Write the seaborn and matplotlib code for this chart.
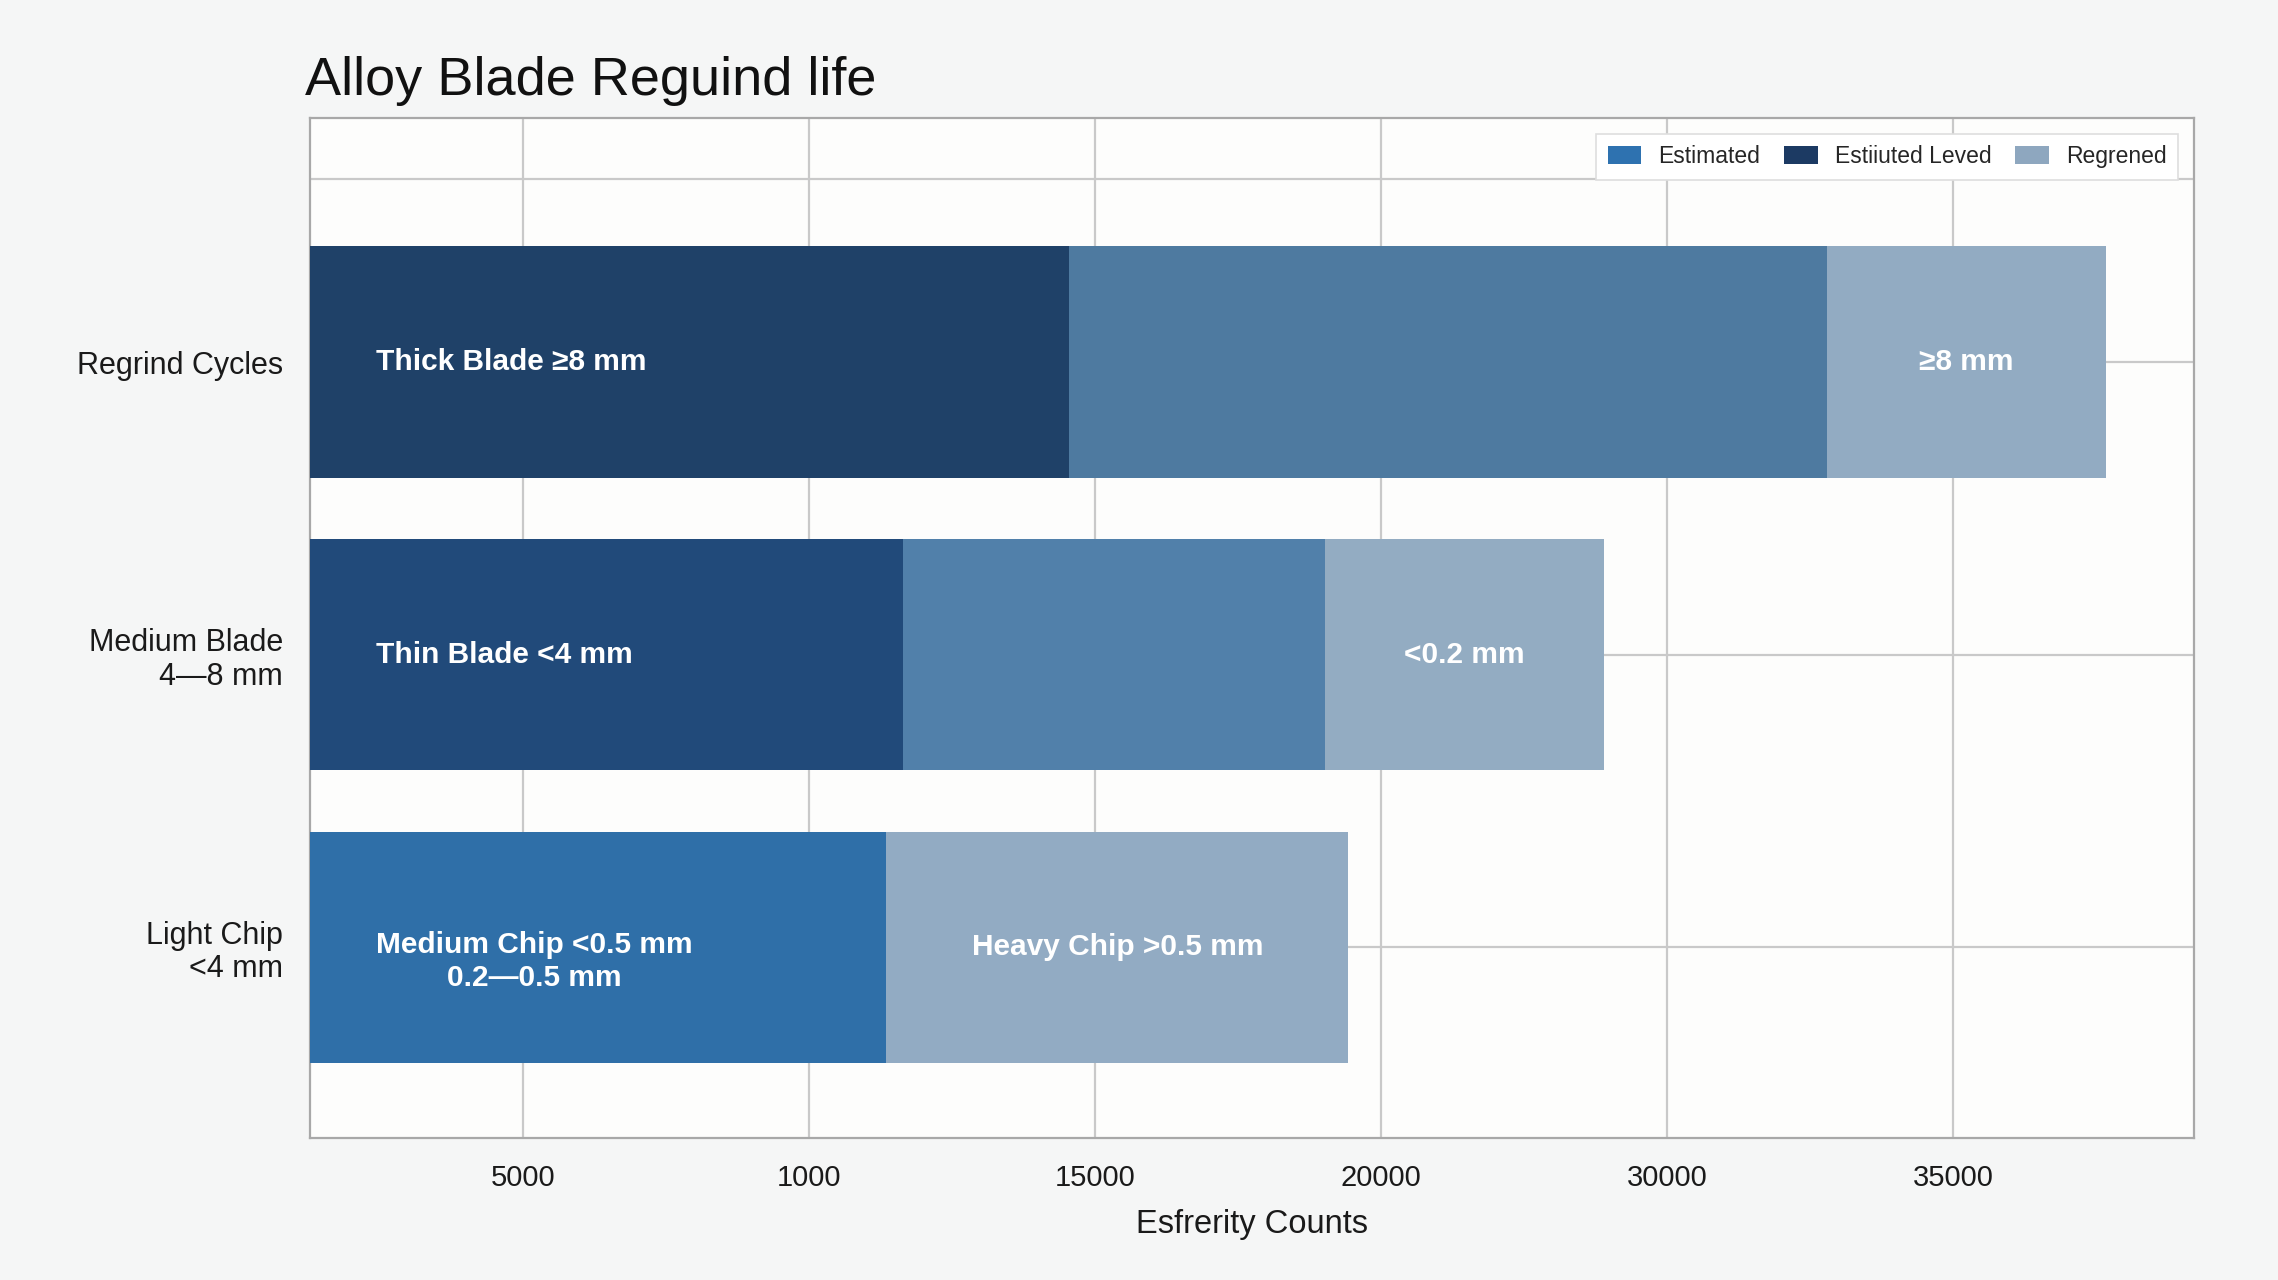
import numpy as np
import pandas as pd
import matplotlib
matplotlib.use("Agg")
import matplotlib.pyplot as plt
import seaborn as sns
from matplotlib.patches import Patch

# ---------------- data ----------------
categories = ["Regrind Cycles", "Medium Blade\n4\u20148 mm", "Light Chip\n<4 mm"]
seg1 = [14550, 11650, 11350]
seg2 = [13240, 7370, 8080]
seg3 = [4880, 4880, 0]
seg1_colors = ["#1f4168", "#214a7a", "#2f6fa8"]
seg2_colors = ["#4e7aa0", "#5180aa", "#92abc3"]
seg3_colors = ["#92abc2", "#93acc2", "#92abc3"]
seg1_labels = ["Thick Blade \u22658 mm", "Thin Blade <4 mm", "Medium Chip <0.5 mm\n0.2\u20140.5 mm"]
seg2_labels = ["", "", "Heavy Chip >0.5 mm"]
seg3_labels = ["\u22658 mm", "<0.2 mm", ""]
legend_labels = ["Estimated", "Estiiuted Leved", "Regrened"]
legend_colors = ["#2e72b0", "#1c3a63", "#8ea7bf"]
x_ticks = [5000, 10000, 15000, 20000, 25000, 30000]
x_ticklabels = ["5000", "1000", "15000", "20000", "30000", "35000"]
title = "Alloy Blade Reguind life"
xlabel = "Esfrerity Counts"

# ---------------- style ----------------
sns.set_theme(style="whitegrid")
base = ["Liberation Sans", "DejaVu Sans"]
plt.rcParams["font.family"] = base

df = pd.DataFrame({
    "category": categories,
    "s1": seg1, "s2": seg2, "s3": seg3,
})
df["c1"] = df["s1"]
df["c2"] = df["s1"] + df["s2"]
df["c3"] = df["s1"] + df["s2"] + df["s3"]

fig = plt.figure(figsize=(22.78, 12.80), dpi=100, facecolor="#f5f6f6")
ax = fig.add_axes([0.1359, 0.1113, 0.8272, 0.7967])
ax.set_facecolor("#fdfdfc")

for col, pal in [("c3", seg3_colors), ("c2", seg2_colors), ("c1", seg1_colors)]:
    sns.barplot(data=df, x=col, y="category", hue="category", palette=pal,
                orient="h", width=0.79, saturation=1, legend=False, ax=ax,
                linewidth=0, edgecolor="none", zorder=3)

ax.set_xlim(1267, 34213)
ax.set_ylim(2.651, -0.835)
ax.set_xticks(x_ticks)
ax.set_xticklabels(x_ticklabels)
ax.axhline(-0.627, color="#c9c9c9", lw=1.6, zorder=0.5)
ax.grid(True, color="#c9c9c9", lw=1.6, zorder=0)
ax.set_axisbelow(True)

for s in ax.spines.values():
    s.set_visible(True)
    s.set_color("#a8a8a8")
    s.set_linewidth(1.6)

ax.tick_params(axis="x", length=0, pad=19, labelsize=21, labelcolor="#1a1a1a")
ax.tick_params(axis="y", length=0, pad=19, labelsize=22, labelcolor="#1a1a1a")
for t in ax.get_yticklabels():
    t.set_horizontalalignment("right")
    t.set_multialignment("right")
    t.set_linespacing(1.15)
ax.set_ylabel("")
ax.set_xlabel(xlabel, fontsize=23.5, color="#1a1a1a", labelpad=12)

# bar labels
for i in range(len(categories)):
    if seg1_labels[i]:
        off = 0.05 if "\n" in seg1_labels[i] else 0.0
        ax.text(2430, i + off, seg1_labels[i], ha="left", va="center",
                multialignment="center", color="white", fontsize=21.5,
                fontweight="bold", zorder=5, linespacing=1.25)
    if seg2_labels[i]:
        ax.text(seg1[i] + seg2[i] / 2, i, seg2_labels[i], ha="center", va="center",
                color="white", fontsize=21.5, fontweight="bold", zorder=5)
    if seg3_labels[i]:
        ax.text(seg1[i] + seg2[i] + seg3[i] / 2, i, seg3_labels[i], ha="center",
                va="center", color="white", fontsize=21.5, fontweight="bold",
                zorder=5)

handles = [Patch(facecolor=c, edgecolor="none") for c in legend_colors]
leg = ax.legend(handles, legend_labels, loc="upper right", ncol=3, fontsize=16.5,
                frameon=True, fancybox=False, edgecolor="#dedede", framealpha=1,
                borderaxespad=0.7, handlelength=1.45, handleheight=0.85,
                columnspacing=1.05, handletextpad=0.75, borderpad=0.5)
leg.get_frame().set_linewidth(1.2)

fig.text(0.1339, 1 - 81 / 1280, title, fontsize=39, color="#111111",
         ha="left", va="center")

fig.savefig("out.png", dpi=100, facecolor=fig.get_facecolor())
